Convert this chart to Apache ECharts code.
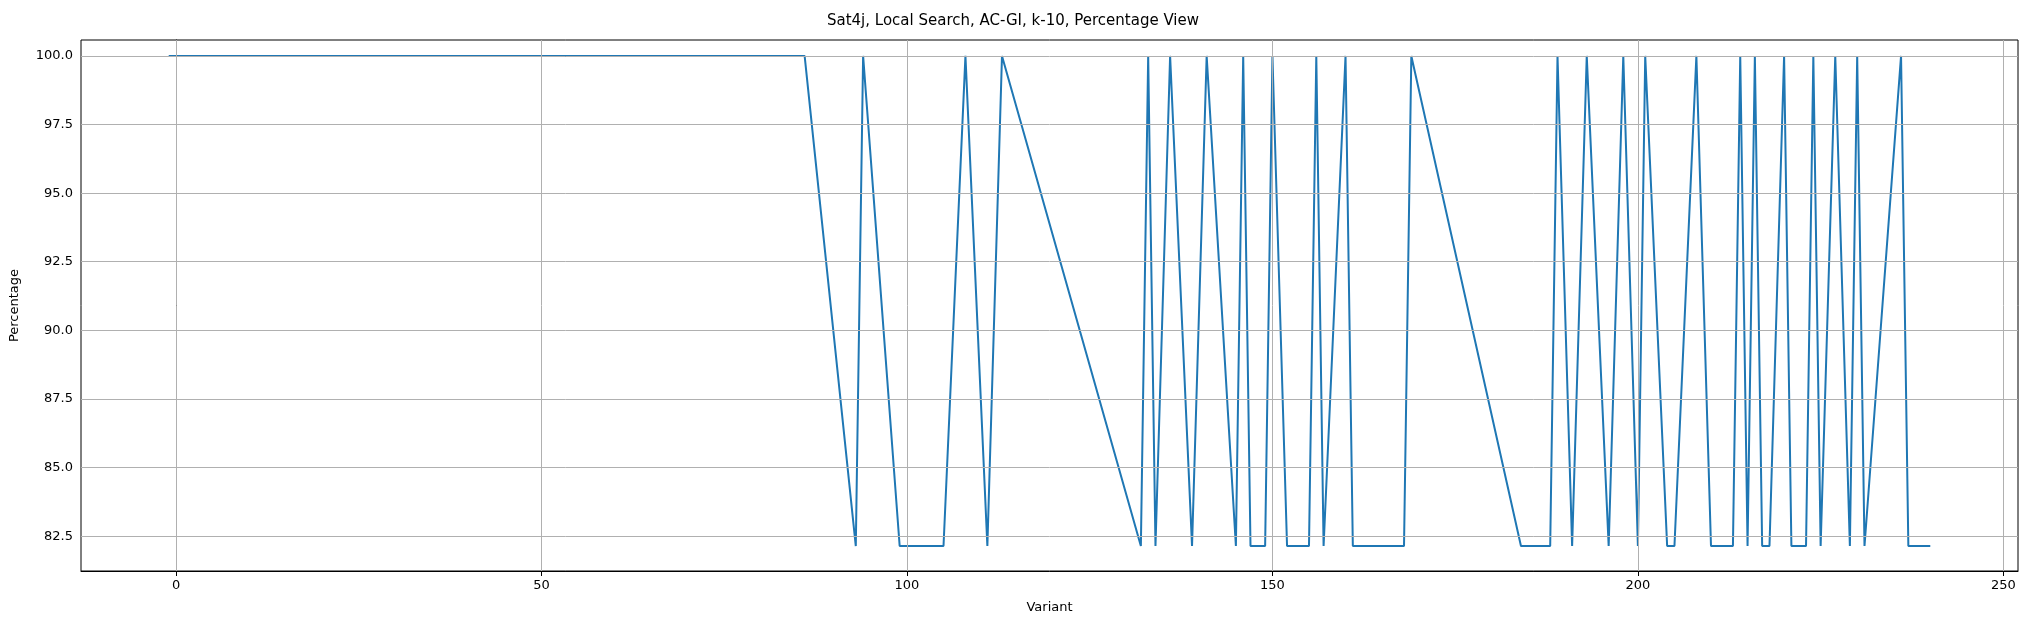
<!DOCTYPE html>
<html>
<head>
<meta charset="utf-8">
<script src="https://cdn.jsdelivr.net/npm/echarts@6/dist/echarts.min.js"></script>
<style>html,body{margin:0;padding:0;background:#fff}#chart{width:2026px;height:624px}</style>
</head>
<body>
<div id="chart"></div>
<script>
const LOW = 82.14;
const variants = [-1, 86, 93, 94, 99, 105, 108, 111, 113, 132, 133, 134, 136, 139, 141, 145, 146, 147, 149, 150, 152, 155, 156, 157, 160, 161, 168, 169, 184, 188, 189, 191, 193, 196, 198, 200, 201, 204, 205, 208, 210, 213, 214, 215, 216, 217, 218, 220, 221, 223, 224, 225, 227, 229, 230, 231, 236, 237, 240];
const percents = [100, 100, LOW, 100, LOW, LOW, 100, LOW, 100, LOW, 100, LOW, 100, LOW, 100, LOW, 100, LOW, LOW, 100, LOW, LOW, 100, LOW, 100, LOW, LOW, 100, LOW, LOW, 100, LOW, 100, LOW, 100, LOW, 100, LOW, LOW, 100, LOW, LOW, 100, LOW, 100, LOW, LOW, 100, LOW, LOW, 100, LOW, 100, LOW, 100, LOW, 100, LOW, LOW];
const xTicks = [0, 50, 100, 150, 200, 250];
const yTicks = [82.5, 85.0, 87.5, 90.0, 92.5, 95.0, 97.5, 100.0];

let chart = echarts.init(document.getElementById('chart'));
const font = 'DejaVu Sans';
const gridLine = {color: '#b0b0b0', width: 1, type: 'solid'};
let marks = xTicks.map(v => ({xAxis: v})).concat(yTicks.map(v => ({yAxis: v})));

chart.setOption({
    animation: false,
    title: {
        text: 'Sat4j, Local Search, AC-GI, k-10, Percentage View',
        left: 'center', top: 9,
        textStyle: {fontFamily: font, fontSize: 15, fontWeight: 'normal', color: '#000'}
    },
    grid: {left: 80, right: 8, top: 40, bottom: 53},
    xAxis: {
        type: 'value', min: -13, max: 252,
        name: 'Variant', nameLocation: 'middle', nameGap: 30,
        nameTextStyle: {fontFamily: font, fontSize: 13, color: '#000'},
        axisLine: {onZero: false, lineStyle: {color: '#000'}},
        axisTick: {customValues: xTicks, length: 5, lineStyle: {color: '#000'}},
        axisLabel: {customValues: xTicks, fontFamily: font, fontSize: 13, color: '#000'},
        splitLine: {show: false}
    },
    yAxis: {
        type: 'value', min: 81.23, max: 100.58,
        name: 'Percentage', nameLocation: 'middle', nameGap: 60,
        nameTextStyle: {fontFamily: font, fontSize: 13, color: '#000'},
        axisLine: {show: true, lineStyle: {color: '#000'}},
        axisTick: {customValues: yTicks, length: 5, lineStyle: {color: '#000'}},
        axisLabel: {customValues: yTicks, fontFamily: font, fontSize: 13, color: '#000',
            formatter: v => v.toFixed(1)},
        splitLine: {show: false}
    },
    series: [{
        type: 'line',
        data: variants.map((v, i) => [v, percents[i]]),
        showSymbol: false,
        lineStyle: {color: '#1f77b4', width: 2},
        markLine: {
            silent: true, symbol: 'none', label: {show: false},
            lineStyle: gridLine, data: marks
        }
    }, {
        type: 'line', data: [],
        markArea: {silent: true, itemStyle: {color: 'rgba(0,0,0,0)', borderColor: '#000', borderWidth: 1},
            data: [[{xAxis: -13, yAxis: 81.23}, {xAxis: 252, yAxis: 100.58}]]}
    }]
});
</script>
</body>
</html>
